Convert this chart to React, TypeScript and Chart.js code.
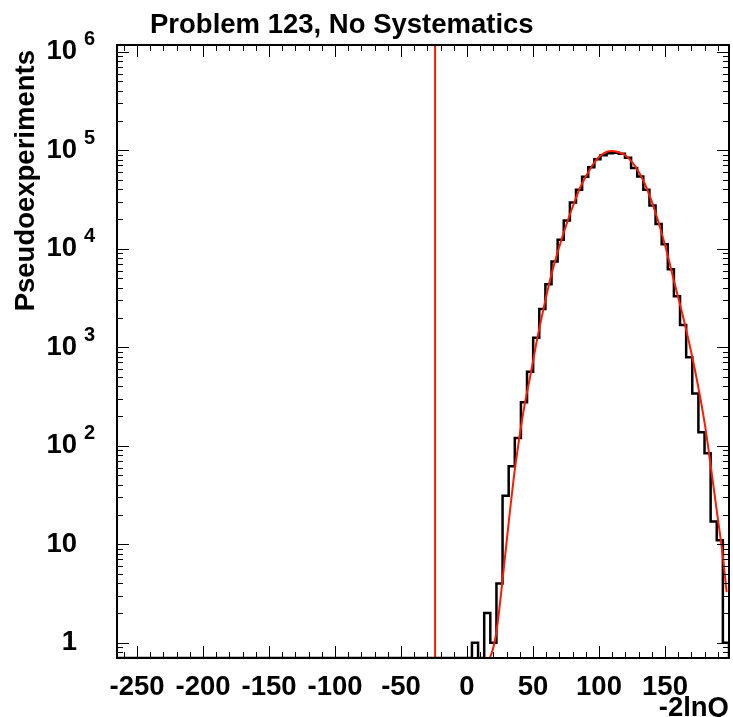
import React, { useEffect, useRef } from 'react';
import { Chart, registerables } from 'chart.js';

Chart.register(...registerables);

// ---- axis ranges ----
const X_MIN = -265.2;
const X_MAX = 198.5;
const Y_MIN = 0.7;
const Y_MAX = 1.17e6;
const N_BINS = 100;

// ---- histogram: counts per bin (bins before FIRST_FILLED_BIN are empty) ----
const FIRST_FILLED_BIN = 58;
const binCounts = [
  1, 0, 2, 1, 4, 31, 62, 120, 277, 565,
  1250, 2440, 4350, 7400, 12300, 19400, 29400, 39600, 53800, 67000,
  81000, 89000, 93000, 94000, 92000, 84000, 66000, 54000, 39800, 27500,
  17800, 11100, 6200, 3300, 1680, 790, 340, 137, 84, 17,
  11, 1,
];

// ---- fitted curve ----
const fitX = [
  16.7, 18.9, 21.2, 23.5, 26.5, 29.5, 32.6, 35.6, 38.6, 43.2,
  48.5, 53.0, 57.6, 62.9, 67.4, 72.0, 76.5, 81.1, 85.6, 90.2,
  94.7, 99.2, 103.8, 109.1, 114.4, 119.7, 127.3, 134.8, 142.4, 150.0,
  157.6, 165.2, 172.7, 180.3, 185.6, 190.2, 193.9, 196.7,
];
const fitY = [
  0.67, 0.8, 1.06, 1.7, 3.85, 9.15, 22.2, 49.3, 97, 241,
  560, 1183, 2333, 4810, 8050, 12850, 19580, 29130, 41340, 54710,
  69180, 83370, 93590, 98100, 95800, 89270, 69180, 45430, 24150, 10910,
  4285, 1683, 587, 162, 50.4, 17.6, 7.41, 3.27,
];

// ---- observed value (vertical line) ----
const observedX = -24.2;

// ---- ticks and labels ----
const xTickValues = [-250, -200, -150, -100, -50, 0, 50, 100, 150];
const yTickExponents = [0, 1, 2, 3, 4, 5, 6];
const titleText = 'Problem 123, No Systematics';
const xTitleText = '-2lnQ';
const yTitleText = 'Pseudoexperiments';

const FONT = '"Liberation Sans", Arial, Helvetica, sans-serif';
const RED = '#ff1a00';

function buildHistogram() {
  const w = (X_MAX - X_MIN) / N_BINS;
  const counts: number[] = [];
  for (let k = 0; k < N_BINS; k++) {
    const j = k - FIRST_FILLED_BIN;
    counts.push(j >= 0 && j < binCounts.length ? binCounts[j] : 0);
  }
  const pts = counts.map((c, k) => ({ x: X_MIN + k * w, y: c > 0 ? c : Y_MIN }));
  const last = counts[N_BINS - 1];
  pts.push({ x: X_MAX, y: last > 0 ? last : Y_MIN });
  pts.push({ x: X_MAX, y: Y_MIN });
  return pts;
}

const rootFramePlugin = {
  id: 'rootFrame',
  afterDraw(chart: any) {
    const { ctx, chartArea: a } = chart;
    const xs = chart.scales.x;
    const ys = chart.scales.y;
    ctx.save();
    ctx.strokeStyle = '#000';
    ctx.lineWidth = 1;
    const line = (x1: number, y1: number, x2: number, y2: number) => {
      ctx.beginPath();
      ctx.moveTo(x1, y1);
      ctx.lineTo(x2, y2);
      ctx.stroke();
    };
    // x ticks (bottom pointing up, top pointing down)
    for (let v = -260; v <= 190; v += 10) {
      const px = Math.round(xs.getPixelForValue(v)) + 0.5;
      const major = v % 50 === 0;
      const len = major ? 12 : 6;
      line(px, a.bottom, px, a.bottom - len);
      line(px, a.top, px, a.top + len);
    }
    // y ticks (left pointing right, right pointing left)
    for (let d = -1; d <= 6; d++) {
      for (let m = 1; m <= 9; m++) {
        const v = m * Math.pow(10, d);
        if (v < Y_MIN || v > Y_MAX) continue;
        const py = Math.round(ys.getPixelForValue(v)) + 0.5;
        const len = m === 1 ? 12 : 6;
        line(a.left, py, a.left + len, py);
        line(a.right, py, a.right - len, py);
      }
    }
    // frame
    ctx.lineWidth = 2;
    ctx.strokeRect(a.left, a.top, a.right - a.left, a.bottom - a.top);

    // y tick labels
    ctx.fillStyle = '#000';
    ctx.textBaseline = 'middle';
    for (const e of yTickExponents) {
      const py = ys.getPixelForValue(Math.pow(10, e));
      ctx.font = `bold 27.5px ${FONT}`;
      ctx.textAlign = 'right';
      const base = e === 0 ? '1' : '10';
      ctx.fillText(base, 77, py);
      if (e >= 2) {
        ctx.font = `bold 20px ${FONT}`;
        ctx.textAlign = 'left';
        ctx.fillText(String(e), 84, py - 12);
      }
    }

    // titles
    ctx.textBaseline = 'alphabetic';
    ctx.font = `bold 27.5px ${FONT}`;
    ctx.textAlign = 'left';
    ctx.fillText(titleText, 150, 33);
    ctx.textAlign = 'right';
    ctx.fillText(xTitleText, 729, 716);
    ctx.save();
    ctx.translate(34, 50);
    ctx.rotate(-Math.PI / 2);
    ctx.textAlign = 'right';
    ctx.fillText(yTitleText, 0, 0);
    ctx.restore();
    ctx.restore();
  },
};

export default function App() {
  const ref = useRef<HTMLCanvasElement | null>(null);
  useEffect(() => {
    document.body.style.margin = '0';
    const canvas = ref.current;
    if (!canvas) return;
    const chart = new Chart(canvas, {
      type: 'line',
      data: {
        datasets: [
          {
            label: 'fit',
            data: fitX.map((x, i) => ({ x, y: fitY[i] })),
            borderColor: RED,
            borderWidth: 2,
            pointRadius: 0,
            cubicInterpolationMode: 'monotone',
            fill: false,
          },
          {
            label: 'histogram',
            data: buildHistogram(),
            borderColor: '#000',
            borderWidth: 2.5,
            pointRadius: 0,
            stepped: true,
            fill: false,
          },
          {
            label: 'observed',
            data: [
              { x: observedX, y: Y_MIN },
              { x: observedX, y: Y_MAX },
            ],
            borderColor: RED,
            borderWidth: 2,
            pointRadius: 0,
            fill: false,
          },
        ],
      },
      options: {
        animation: false,
        responsive: false,
        maintainAspectRatio: false,
        events: [],
        layout: { padding: { top: 45, right: 4, left: 0, bottom: 0 } },
        plugins: {
          legend: { display: false },
          tooltip: { enabled: false },
          title: { display: false },
        },
        scales: {
          x: {
            type: 'linear',
            min: X_MIN,
            max: X_MAX,
            grid: { display: false, drawTicks: false },
            border: { display: false },
            afterBuildTicks: (s: any) => {
              s.ticks = xTickValues.map((v) => ({ value: v }));
            },
            afterFit: (s: any) => {
              s.height = 59;
            },
            ticks: {
              autoSkip: false,
              maxRotation: 0,
              minRotation: 0,
              padding: 13,
              color: '#000',
              font: { family: FONT, size: 27.5, weight: 'bold' },
              callback: (v: any) => String(v),
            },
          },
          y: {
            type: 'logarithmic',
            min: Y_MIN,
            max: Y_MAX,
            grid: { display: false, drawTicks: false },
            border: { display: false },
            ticks: { display: false },
            afterFit: (s: any) => {
              s.width = 117;
            },
          },
        },
      },
      plugins: [rootFramePlugin],
    } as any);
    return () => chart.destroy();
  }, []);
  return (
    <div style={{ position: 'absolute', left: 0, top: 0, width: 733, height: 717, background: '#fff' }}>
      <canvas ref={ref} width={733} height={717} style={{ display: 'block' }} />
    </div>
  );
}
